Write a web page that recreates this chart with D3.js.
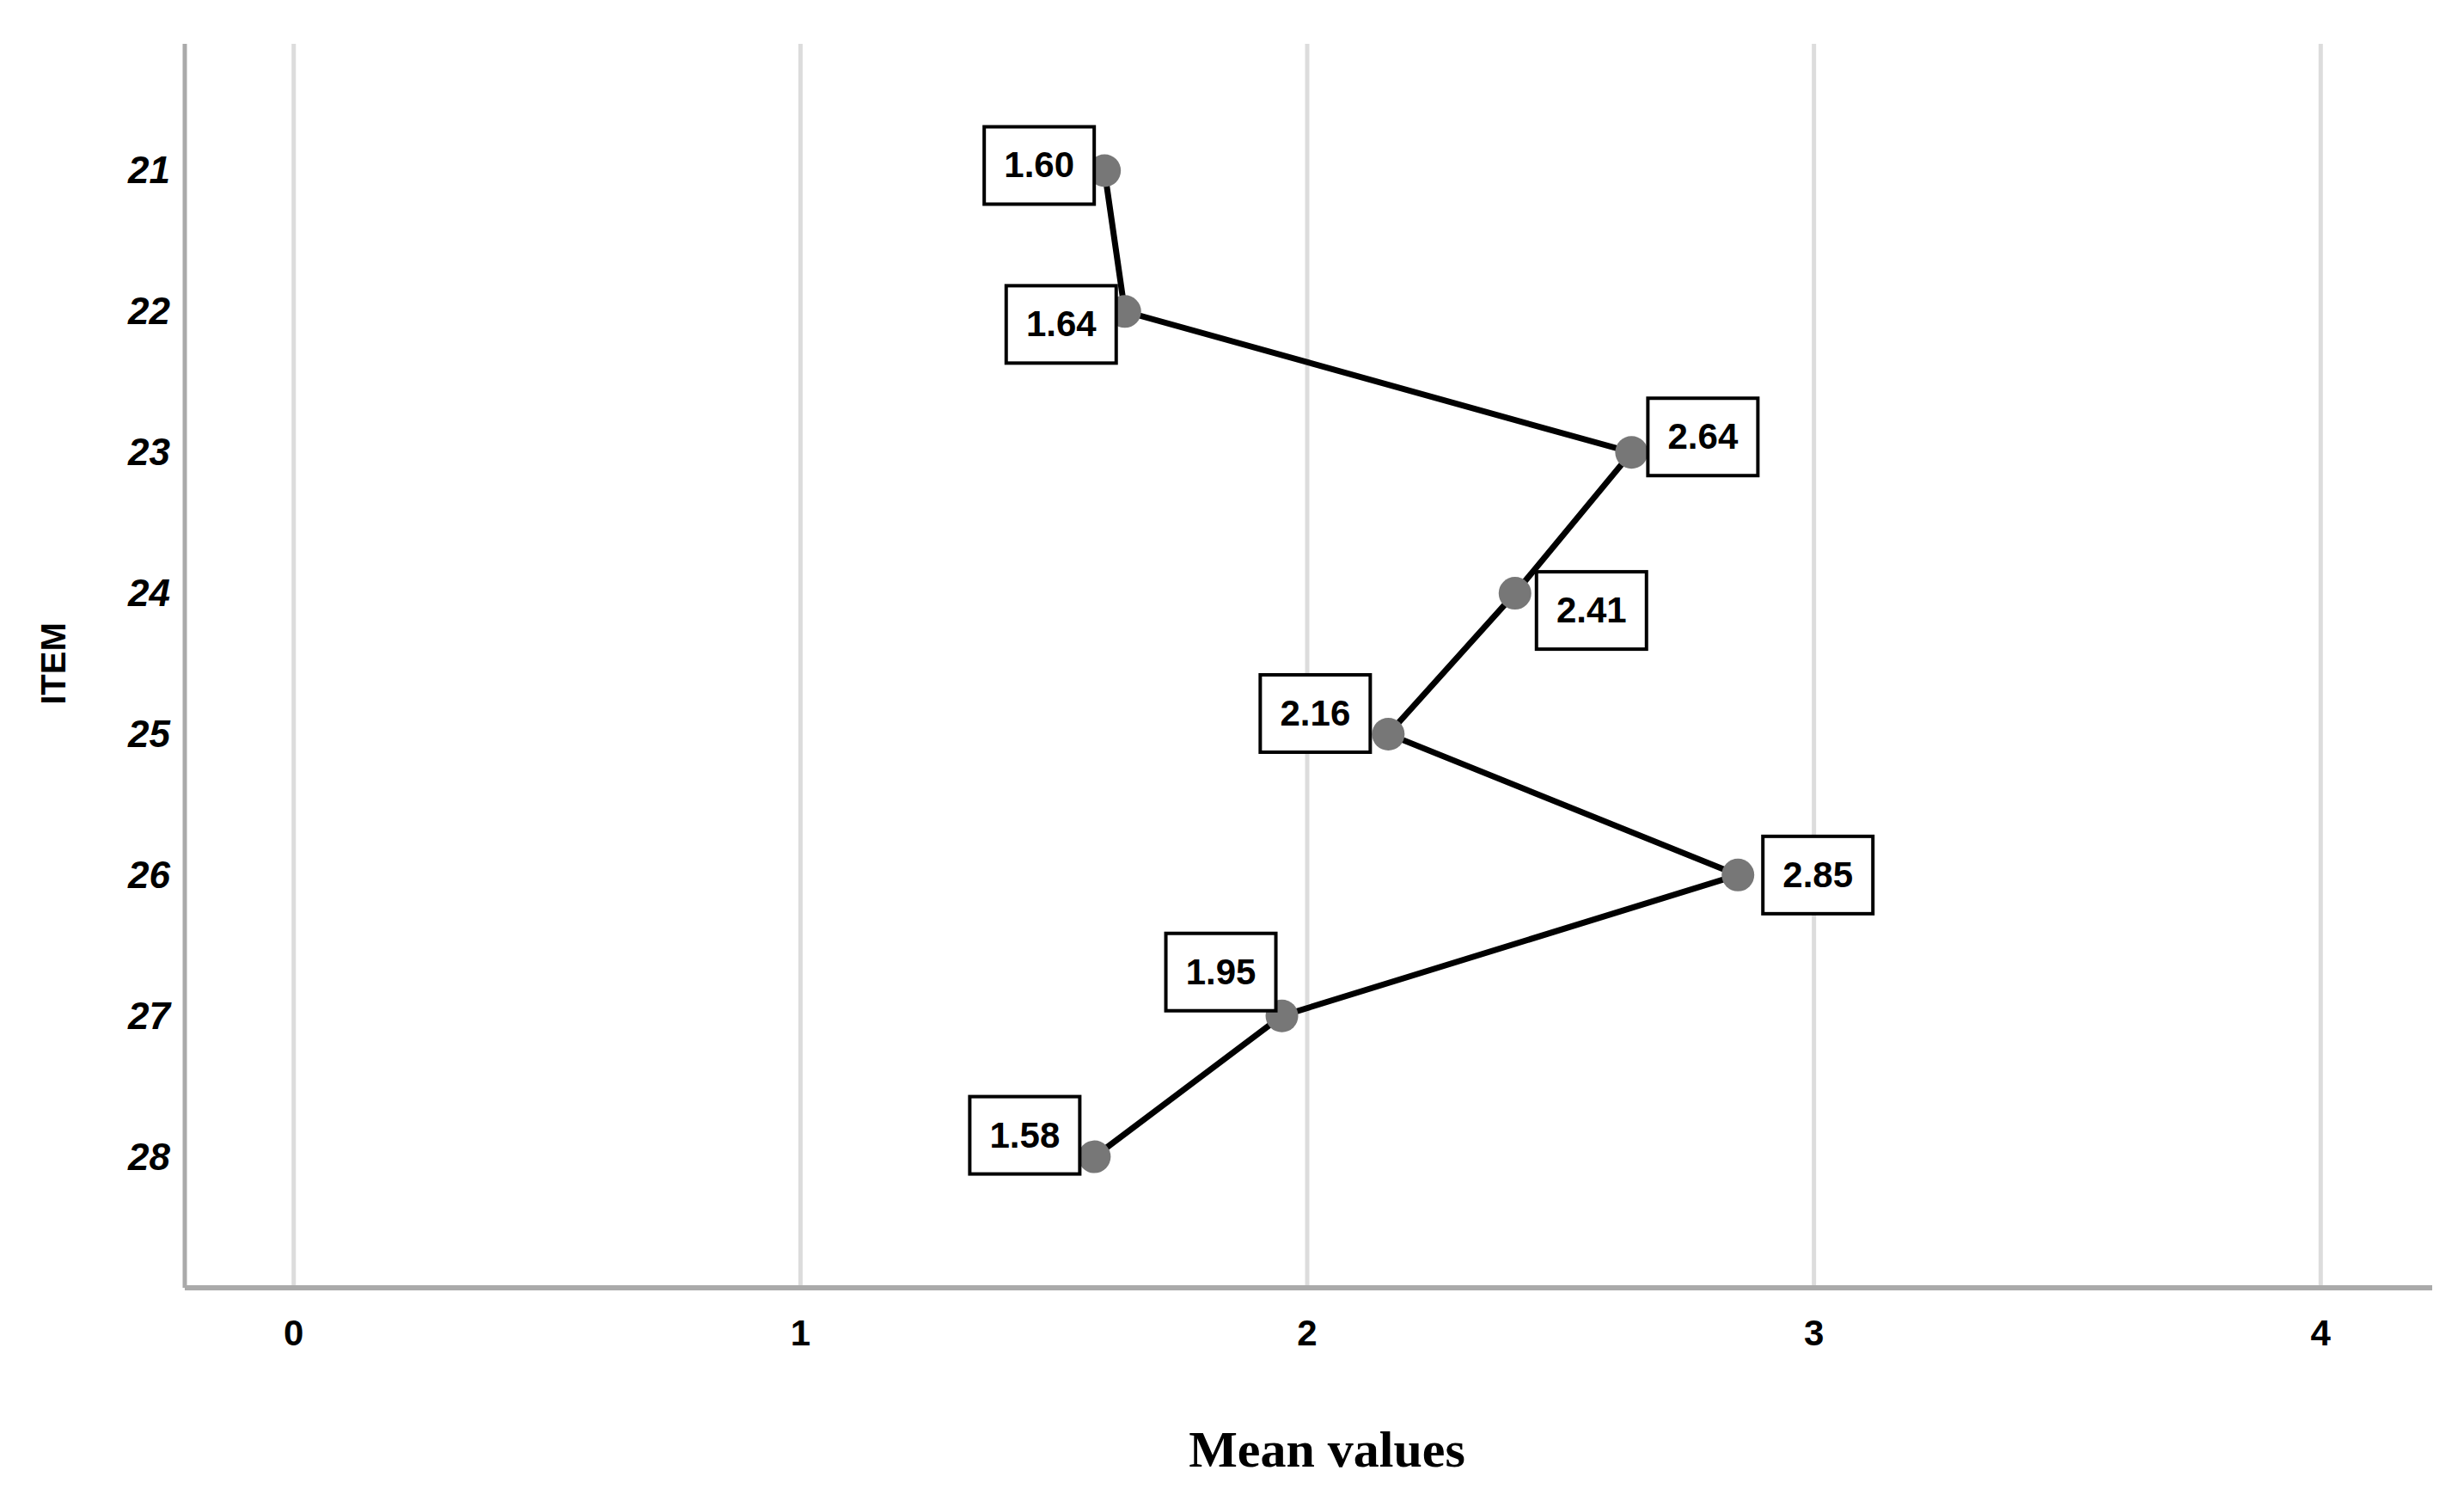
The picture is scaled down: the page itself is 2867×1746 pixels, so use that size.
<!DOCTYPE html>
<html><head><meta charset="utf-8">
<script src="https://cdn.jsdelivr.net/npm/d3@7"></script>
<style>body{margin:0;background:#fff}</style>
</head><body>
<svg id="chart" width="2867" height="1746"></svg>
<script>
// data
const items = [21, 22, 23, 24, 25, 26, 27, 28];
const means = [1.60, 1.64, 2.64, 2.41, 2.16, 2.85, 1.95, 1.58];
const xTicks = [0, 1, 2, 3, 4];
// label box offsets from the point (px)
const labelOffsets = [[-76,-6],[-74,15],[83,-18],[89,20],[-85,-24],[93,0],[-71,-51],[-81,-25]];

const svg = d3.select("#chart");
const plotLeft = 215, plotRight = 2830, plotTop = 51, plotBottom = 1498;

const x = d3.scaleLinear().domain([-0.215, 4.22]).range([plotLeft, plotRight]);
const y = d3.scaleLinear().domain([20.1, 28.93]).range([plotTop, plotBottom]);

// grid
svg.append("g").selectAll("line").data(xTicks).join("line")
  .attr("x1", d => x(d)).attr("x2", d => x(d))
  .attr("y1", plotTop).attr("y2", plotBottom)
  .attr("stroke", "#dcdcdc").attr("stroke-width", 5);

// axes
svg.append("line").attr("x1", plotLeft).attr("x2", plotLeft).attr("y1", plotTop).attr("y2", plotBottom)
  .attr("stroke", "#aaa").attr("stroke-width", 5);
svg.append("line").attr("x1", plotLeft).attr("x2", plotRight).attr("y1", plotBottom).attr("y2", plotBottom)
  .attr("stroke", "#aaa").attr("stroke-width", 6);

const narrow = "'Liberation Sans Narrow', 'Liberation Sans', Arial, sans-serif";

svg.append("g").selectAll("text").data(xTicks).join("text")
  .attr("x", d => x(d)).attr("y", 1565)
  .attr("text-anchor", "middle").attr("font-family", narrow)
  .attr("font-weight", "bold").attr("font-size", 42).text(d => d);

svg.append("g").selectAll("text").data(items).join("text")
  .attr("x", 198).attr("y", d => y(d) + 15)
  .attr("text-anchor", "end").attr("font-family", narrow)
  .attr("font-weight", "bold").attr("font-style", "italic")
  .attr("font-size", 44).text(d => d);

svg.append("text").attr("transform", "translate(76,772) rotate(-90)")
  .attr("text-anchor", "middle").attr("font-family", "'Liberation Sans', Arial, sans-serif")
  .attr("font-weight", "bold").attr("font-size", 40).text("ITEM");

svg.append("text").attr("x", 1544).attr("y", 1706)
  .attr("text-anchor", "middle").attr("font-family", "'Liberation Serif', 'Times New Roman', serif")
  .attr("font-weight", "bold").attr("font-size", 60).text("Mean values");

// line + points
const pts = items.map((d, i) => [x(means[i]), y(d)]);
svg.append("path").attr("d", d3.line()(pts))
  .attr("fill", "none").attr("stroke", "#000").attr("stroke-width", 7);

svg.append("g").selectAll("circle").data(pts).join("circle")
  .attr("cx", d => d[0]).attr("cy", d => d[1]).attr("r", 19).attr("fill", "#777");

// labels
const lab = svg.append("g").selectAll("g").data(items).join("g")
  .attr("transform", (d, i) => `translate(${pts[i][0] + labelOffsets[i][0]},${pts[i][1] + labelOffsets[i][1]})`);
lab.append("rect").attr("x", -64).attr("y", -45).attr("width", 128).attr("height", 90)
  .attr("fill", "#fff").attr("stroke", "#000").attr("stroke-width", 4);
lab.append("text").attr("text-anchor", "middle").attr("y", 14)
  .attr("font-family", narrow).attr("font-weight", "bold").attr("font-size", 42)
  .text((d, i) => means[i].toFixed(2));
</script>
</body></html>
